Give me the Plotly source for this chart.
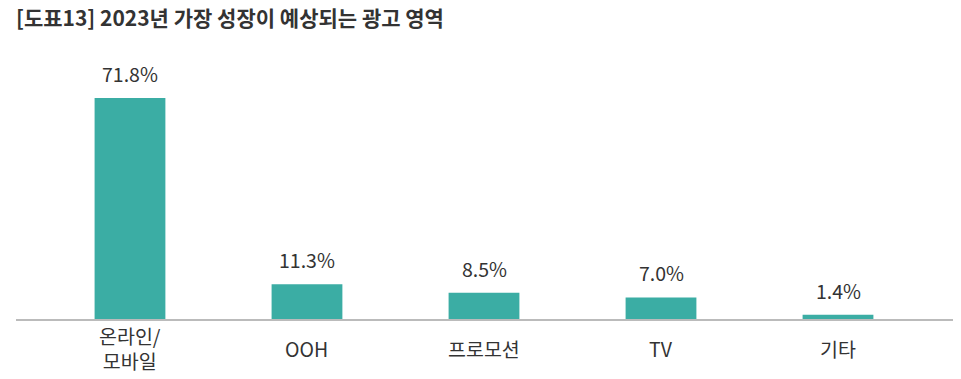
import plotly.graph_objects as go

categories = ["온라인/<br>모바일", "OOH", "프로모션", "TV", "기타"]
values = [71.8, 11.3, 8.5, 7.0, 1.4]
value_labels = ["71.8%", "11.3%", "8.5%", "7.0%", "1.4%"]
title = "[도표13] 2023년 가장 성장이 예상되는 광고 영역"

FONT = "Noto Sans CJK KR"
BAR = "#3BADA4"
TXT = "#333333"

x_idx = list(range(len(categories)))

fig = go.Figure()
fig.add_trace(go.Bar(x=x_idx, y=values, marker=dict(color=BAR, line=dict(width=0)),
                     width=0.4, hoverinfo="skip"))

annotations = []
for i, (v, lab) in enumerate(zip(values, value_labels)):
    annotations.append(dict(x=i, y=v, xref="x", yref="y", text=lab, showarrow=False,
                            yanchor="bottom", yshift=8,
                            font=dict(family=FONT, size=19.5, color=TXT)))
for i, c in enumerate(categories):
    annotations.append(dict(x=i, y=0, xref="x", yref="paper", text=c, showarrow=False,
                            yanchor="middle", yshift=-29,
                            font=dict(family=FONT, size=19.5, color=TXT)))

fig.update_layout(
    width=953, height=371,
    margin=dict(l=8, r=6, t=52, b=60),
    paper_bgcolor="white", plot_bgcolor="white",
    showlegend=False,
    title=dict(text="<b>" + title + "</b>", x=0.0, xref="paper", xanchor="left",
               y=0.99, yref="container", yanchor="top", pad=dict(t=0, l=0),
               font=dict(family=FONT, size=21, color=TXT)),
    xaxis=dict(range=[-0.644, 4.661], showgrid=False, zeroline=False,
               showticklabels=False, ticks="", showline=True,
               linecolor="#BBBBBB", linewidth=2, fixedrange=True),
    yaxis=dict(range=[0, 84.1], visible=False, fixedrange=True),
    annotations=annotations,
)

fig.write_html("out.html")
